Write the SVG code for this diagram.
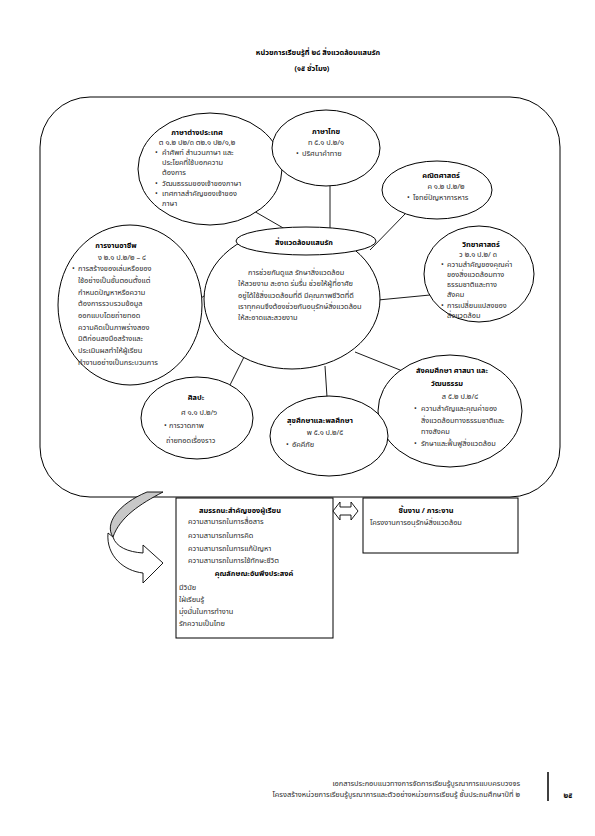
<svg xmlns="http://www.w3.org/2000/svg" width="595" height="836" viewBox="0 0 595 836">
<style>
text{font-family:"Noto Sans Thai","Noto Sans","DejaVu Sans",sans-serif;font-size:7.4px;fill:#2a2a2a}
.b{font-weight:bold;fill:#000}
.c{text-anchor:middle}
.s{fill:#fff;stroke:#000;stroke-width:1}
.ln{stroke:#000;stroke-width:0.9;fill:none}
</style>
<rect width="595" height="836" fill="#fff"/>
<g id="title">
<text x="318" y="55" class="b c" font-size="11.5">หน่วยการเรียนรู้ที่ ๒๘ สิ่งแวดล้อมแสนรัก</text>
<text x="312" y="71" class="b c" font-size="11.5">(๑๕ ชั่วโมง)</text>
</g>
<g id="frame"><rect x="40" y="97" width="520" height="400" rx="50" ry="50" class="s" stroke-width="1.2"/></g>
<g id="connectors">
<line x1="252" y1="210" x2="285" y2="229" class="ln"/>
<line x1="330" y1="186" x2="330" y2="229" class="ln"/>
<line x1="405" y1="214" x2="370" y2="250" class="ln"/>
<line x1="430" y1="295" x2="378" y2="300" class="ln"/>
<line x1="405" y1="372" x2="355" y2="352" class="ln"/>
<line x1="327" y1="397" x2="325" y2="366" class="ln"/>
<line x1="230" y1="385" x2="245" y2="355" class="ln"/>
<line x1="198" y1="300" x2="210" y2="292" class="ln"/>
</g>
<g id="center">
<ellipse cx="292" cy="299" rx="88" ry="70" class="s"/>
<ellipse cx="306" cy="241" rx="70" ry="14" class="s" stroke-width="1.6"/>
<text x="304" y="245" class="b c" font-size="11">สิ่งแวดล้อมแสนรัก</text>
<text x="248" y="275">การช่วยกันดูแล  รักษาสิ่งแวดล้อม</text>
<text x="238" y="286">ให้สวยงาม สะอาด ร่มรื่น ช่วยให้ผู้ที่อาศัย</text>
<text x="238" y="298">อยู่ได้ใช้สิ่งแวดล้อมที่ดี  มีคุณภาพชีวิตที่ดี</text>
<text x="238" y="309">เราทุกคนจึงต้องช่วยกันอนุรักษ์สิ่งแวดล้อม</text>
<text x="238" y="320">ให้สะอาดและสวยงาม</text>
</g>
<g id="foreign">
<ellipse cx="210" cy="169" rx="72" ry="56" class="s"/>
<text x="197" y="135" class="b c">ภาษาต่างประเทศ</text>
<text x="197" y="145" class="c">ต ๑.๒ ป๒/๓ ต๒.๑ ป๒/๑,๒</text>
<text x="155" y="155">•</text>
<text x="162" y="155">คำศัพท์ สำนวนภาษา และ</text>
<text x="162" y="165">ประโยคที่ใช้บอกความ</text>
<text x="162" y="175">ต้องการ</text>
<text x="155" y="186">•</text>
<text x="162" y="186">วัฒนธรรมของเจ้าของภาษา</text>
<text x="155" y="196">•</text>
<text x="162" y="196">เทศกาลสำคัญของเจ้าของ</text>
<text x="162" y="206">ภาษา</text>
</g>
<g id="thai">
<ellipse cx="326" cy="148" rx="54" ry="38" class="s"/>
<text x="326" y="134" class="b c">ภาษาไทย</text>
<text x="326" y="145" class="c">ท ๕.๑ ป.๒/๑</text>
<text x="296" y="156">•</text>
<text x="302" y="156">ปริศนาคำทาย</text>
</g>
<g id="math">
<ellipse cx="437" cy="190" rx="55" ry="29" class="s"/>
<text x="441" y="178" class="b c">คณิตศาสตร์</text>
<text x="446" y="189" class="c">ค ๑.๒ ป.๒/๒</text>
<text x="407" y="200">•</text>
<text x="413" y="200">โจทย์ปัญหาการหาร</text>
</g>
<g id="career">
<ellipse cx="130" cy="305" rx="72" ry="80" class="s"/>
<text x="116" y="248" class="b c">การงานอาชีพ</text>
<text x="122" y="260" class="c">ง ๒.๑ ป.๒/๒  –  ๔</text>
<text x="72" y="271">•</text>
<text x="78" y="271">การสร้างของเล่นหรือของ</text>
<text x="78" y="283">ใช้อย่างเป็นขั้นตอนตั้งแต่</text>
<text x="78" y="295">กำหนดปัญหาหรือความ</text>
<text x="78" y="306">ต้องการรวบรวมข้อมูล</text>
<text x="78" y="318">ออกแบบโดยถ่ายทอด</text>
<text x="78" y="330">ความคิดเป็นภาพร่างสอง</text>
<text x="78" y="341">มิติก่อนลงมือสร้างและ</text>
<text x="78" y="353">ประเมินผลทำให้ผู้เรียน</text>
<text x="78" y="365" font-size="6.3">ทำงานอย่างเป็นกระบวนการ</text>
</g>
<g id="science">
<ellipse cx="479" cy="274" rx="55" ry="48" class="s"/>
<text x="481" y="247" class="b c">วิทยาศาสตร์</text>
<text x="478" y="257" class="c">ว ๒.๑ ป.๒/ ๓</text>
<text x="441" y="267">•</text>
<text x="447" y="267">ความสำคัญของคุณค่า</text>
<text x="447" y="277">ของสิ่งแวดล้อมทาง</text>
<text x="447" y="287">ธรรมชาติและทาง</text>
<text x="447" y="297">สังคม</text>
<text x="441" y="308">•</text>
<text x="447" y="308">การเปลี่ยนแปลงของ</text>
<text x="447" y="318">สิ่งแวดล้อม</text>
</g>
<g id="social">
<ellipse cx="450" cy="411" rx="72" ry="56" class="s"/>
<text x="452" y="373" class="b c">สังคมศึกษา ศาสนา และ</text>
<text x="447" y="386" class="b c">วัฒนธรรม</text>
<text x="460" y="399" class="c">ส ๕.๒ ป.๒/๔</text>
<text x="414" y="411">•</text>
<text x="421" y="411">ความสำคัญและคุณค่าของ</text>
<text x="421" y="423">สิ่งแวดล้อมทางธรรมชาติและ</text>
<text x="421" y="434">ทางสังคม</text>
<text x="414" y="446">•</text>
<text x="421" y="446">รักษาและฟื้นฟูสิ่งแวดล้อม</text>
</g>
<g id="art">
<ellipse cx="197" cy="418" rx="56" ry="41" class="s"/>
<text x="196" y="400" class="b c">ศิลปะ</text>
<text x="199" y="415" class="c">ศ ๑.๑ ป.๒/๖</text>
<text x="164" y="428">•</text>
<text x="169" y="428">การวาดภาพ</text>
<text x="166" y="443">ถ่ายทอดเรื่องราว</text>
</g>
<g id="health">
<ellipse cx="329" cy="436" rx="59" ry="40" class="s"/>
<text x="320" y="423" class="b c">สุขศึกษาและพลศึกษา</text>
<text x="325" y="435" class="c">พ ๕.๑ ป.๒/๕</text>
<text x="286" y="447">•</text>
<text x="292" y="447">อัคคีภัย</text>
</g>
<g id="curved-arrow">
<path d="M147,492 L163,492 C140,504 120,517 113,537 C104,524 118,504 147,492 Z" fill="#c8c8c8" stroke="#000" stroke-width="0.9"/>
<path d="M108,533 C106,556 124,571 143,573 L143,583 L163,563 L143,545 L143,553 C128,552 116,547 113,537 Z" fill="#fff" stroke="#000" stroke-width="0.9"/>
</g>
<g id="competency">
<rect x="176" y="498" width="157" height="140" class="s"/>
<text x="240" y="513" class="b c">สมรรถนะสำคัญของผู้เรียน</text>
<text x="188" y="524">ความสามารถในการสื่อสาร</text>
<text x="188" y="538">ความสามารถในการคิด</text>
<text x="188" y="551">ความสามารถในการแก้ปัญหา</text>
<text x="188" y="563">ความสามารถในการใช้ทักษะชีวิต</text>
<text x="254" y="576" class="b c">คุณลักษณะอันพึงประสงค์</text>
<text x="179" y="590">มีวินัย</text>
<text x="179" y="602">ใฝ่เรียนรู้</text>
<text x="179" y="614">มุ่งมั่นในการทำงาน</text>
<text x="179" y="626">รักความเป็นไทย</text>
</g>
<g id="double-arrow">
<path d="M333,511 L340,502 L340,507 L351,507 L351,502 L358,511 L351,520 L351,515 L340,515 L340,520 Z" fill="#fff" stroke="#000" stroke-width="0.9"/>
</g>
<g id="workload">
<rect x="363" y="498" width="155" height="55" class="s"/>
<text x="426" y="513" class="b c">ชิ้นงาน / ภาระงาน</text>
<text x="370" y="525">โครงงานการอนุรักษ์สิ่งแวดล้อม</text>
</g>
<g id="footer">
<text x="520" y="786" font-size="6.3" text-anchor="end">เอกสารประกอบแนวทางการจัดการเรียนรู้บูรณาการแบบครบวงจร</text>
<text x="520" y="797" font-size="6.3" text-anchor="end">โครงสร้างหน่วยการเรียนรู้บูรณาการและตัวอย่างหน่วยการเรียนรู้ ชั้นประถมศึกษาปีที่ ๒</text>
<line x1="548" y1="772" x2="548" y2="801" stroke="#000" stroke-width="1.5"/>
<text x="568" y="798" class="b c" font-size="10">๒๕</text>
</g>
</svg>
